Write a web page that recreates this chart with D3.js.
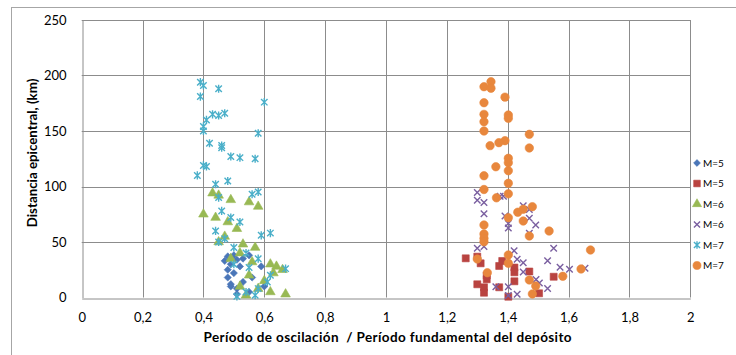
<!DOCTYPE html>
<html>
<head>
<meta charset="utf-8">
<script src="https://cdn.jsdelivr.net/npm/d3@7"></script>
<style>
  html, body { margin: 0; padding: 0; background: #fff; }
  svg { display: block; }
  text { font-family: Lato, "Open Sans", "Liberation Sans", sans-serif; fill: #000; }
</style>
</head>
<body>
<svg id="chart" width="736" height="355"></svg>
<script>
// Period ratio (x) vs. epicentral distance in km (y), grouped by magnitude
const seriesNames = ["M=5", "M=5", "M=6", "M=6", "M=7", "M=7"];

const m5Low = [
  [0.48,37],[0.50,38],[0.47,33],[0.51,34],[0.49,30],[0.53,35],[0.48,25],[0.50,22],
  [0.52,28],[0.48,18],[0.49,12],[0.49,10],[0.51,8],[0.53,14],[0.56,18],[0.60,10],
  [0.55,5],[0.51,3],[0.55,38],[0.59,28]
];
const m5High = [
  [1.262,35.3],[1.300,36.8],[1.311,30.8],[1.372,28.4],[1.382,32.9],[1.422,27.0],
  [1.422,22.7],[1.471,23.4],[1.331,19.8],[1.331,16.4],[1.422,14.6],[1.300,11.9],
  [1.322,9.2],[1.322,4.3],[1.372,9.2],[1.402,0.7],[1.551,18.7],[1.503,3.8]
];
const m6Low = [
  [0.43,94],[0.45,92],[0.49,88],[0.55,86],[0.58,82],[0.40,75],[0.44,72],[0.48,68],
  [0.51,62],[0.47,55],[0.45,50],[0.53,48],[0.57,45],[0.52,40],[0.49,35],[0.56,32],
  [0.62,30],[0.64,28],[0.66,25],[0.63,22],[0.55,20],[0.60,15],[0.52,10],[0.58,8],
  [0.62,5],[0.67,3],[0.54,2]
];
const m6High = [
  [1.300,94.6],[1.300,87.6],[1.322,85.6],[1.322,75.5],[1.375,91.2],[1.386,91.2],
  [1.391,73.4],[1.402,66.7],[1.402,62.6],[1.451,82.7],[1.471,79.3],[1.471,71.4],
  [1.492,65.3],[1.471,57.8],[1.300,44.3],[1.322,45.9],[1.421,42.2],[1.431,34.5],
  [1.451,31.3],[1.451,23.0],[1.493,16.2],[1.504,13.1],[1.531,8.1],[1.531,33.1],
  [1.551,44.3],[1.572,27.2],[1.603,25.4],[1.654,26.3],[1.361,9.7],[1.402,9.7],
  [1.402,1.8],[1.431,2.9]
];
const m7Low = [
  [0.39,194],[0.40,191],[0.39,181],[0.45,188],[0.43,165],[0.45,164],[0.47,166],
  [0.41,160],[0.40,154],[0.40,150],[0.58,148],[0.60,176],[0.42,139],[0.46,137],
  [0.46,135],[0.49,127],[0.52,126],[0.57,125],[0.40,119],[0.41,118],[0.38,110],
  [0.44,102],[0.48,105],[0.56,93],[0.58,95],[0.45,90],[0.46,78],[0.49,72],[0.52,68],
  [0.44,60],[0.47,53],[0.45,50],[0.59,56],[0.62,58],[0.50,45],[0.54,40],[0.58,35],
  [0.50,30],[0.55,27],[0.62,20],[0.67,26],[0.61,14],[0.58,8],[0.54,5],[0.57,2],[0.51,1]
];
const m7High = [
  [1.345,194.4],[1.322,189.9],[1.345,188.5],[1.391,180.5],[1.322,175.5],[1.322,165.0],
  [1.402,164.4],[1.402,161.4],[1.322,158.4],[1.322,150.0],[1.471,147.0],[1.391,141.3],
  [1.371,139.5],[1.342,136.8],[1.471,134.7],[1.402,125.4],[1.402,121.4],[1.361,117.8],
  [1.402,114.2],[1.322,109.7],[1.402,102.9],[1.322,97.3],[1.402,93.4],[1.363,89.8],
  [1.433,76.8],[1.451,79.5],[1.481,81.8],[1.402,71.9],[1.451,68.9],[1.322,65.3],
  [1.322,57.2],[1.322,53.3],[1.322,50.3],[1.471,55.4],[1.536,59.9],[1.300,34.7],
  [1.402,38.3],[1.402,30.8],[1.333,22.3],[1.471,15.8],[1.492,10.4],[1.481,3.2],
  [1.672,42.8],[1.641,25.7],[1.581,19.1]
];

const xTicks = [0, 0.2, 0.4, 0.6, 0.8, 1, 1.2, 1.4, 1.6, 1.8, 2];
const yTicks = [0, 50, 100, 150, 200, 250];
const xTitle = "Período de oscilación  / Período fundamental del depósito";
const yTitle = "Distancia epicentral, (km)";

// Marker shapes
const asterisk = {
  draw(ctx, size) {
    const r = Math.sqrt(size) / 2;
    ctx.moveTo(-r, -r); ctx.lineTo(r, r);
    ctx.moveTo(-r, r); ctx.lineTo(r, -r);
    ctx.moveTo(0, -r * 1.25); ctx.lineTo(0, r * 1.25);
  }
};
const cross = {
  draw(ctx, size) {
    const r = Math.sqrt(size) / 2;
    ctx.moveTo(-r, -r); ctx.lineTo(r, r);
    ctx.moveTo(-r, r); ctx.lineTo(r, -r);
  }
};
const diamond = {
  draw(ctx, size) {
    const r = Math.sqrt(size) / 2 * 1.2;
    ctx.moveTo(0, -r); ctx.lineTo(r, 0); ctx.lineTo(0, r); ctx.lineTo(-r, 0); ctx.closePath();
  }
};

const series = [
  { name: seriesNames[0], data: m5Low,  color: "#4A76B8", type: diamond,          size: 36, fill: true },
  { name: seriesNames[1], data: m5High, color: "#B94340", type: d3.symbolSquare,  size: 49, fill: true },
  { name: seriesNames[2], data: m6Low,  color: "#98B954", type: d3.symbolTriangle,size: 40, fill: true },
  { name: seriesNames[3], data: m6High, color: "#7A5FA0", type: cross,            size: 42, fill: false },
  { name: seriesNames[4], data: m7Low,  color: "#4AAFC9", type: asterisk,         size: 42, fill: false },
  { name: seriesNames[5], data: m7High, color: "#E8873D", type: d3.symbolCircle,  size: 56, fill: true }
];

const svg = d3.select("#chart");
const margin = { left: 81.7, right: 736 - 690.3, top: 20, bottom: 355 - 297.5 };
const W = 736, H = 355;

// Chart area frame
svg.append("rect")
  .attr("x", 11.5).attr("y", 7.5).attr("width", 740).attr("height", 360)
  .attr("fill", "#fff").attr("stroke", "#A6A6A6").attr("stroke-width", 1);

const x = d3.scaleLinear().domain([0, 2]).range([margin.left, W - margin.right]);
const y = d3.scaleLinear().domain([0, 250]).range([H - margin.bottom, margin.top]);

const loc = d3.formatLocale({ decimal: ",", thousands: ".", grouping: [3], currency: ["", ""] });
const fmt = loc.format("~g");

// Gridlines
const grid = svg.append("g").attr("stroke", "#8C8C8C").attr("stroke-width", 1);
grid.selectAll("line.h").data(yTicks.slice(1)).join("line")
  .attr("x1", x(0)).attr("x2", x(2))
  .attr("y1", d => Math.round(y(d)) + 0.5).attr("y2", d => Math.round(y(d)) + 0.5);
grid.selectAll("line.v").data(xTicks.slice(1)).join("line")
  .attr("y1", y(0)).attr("y2", y(250))
  .attr("x1", d => Math.round(x(d)) + 0.5).attr("x2", d => Math.round(x(d)) + 0.5);

// Axes
const xAxis = svg.append("g")
  .attr("transform", `translate(0,${Math.round(y(0)) + 0.5})`)
  .call(d3.axisBottom(x).tickValues(xTicks).tickFormat(fmt).tickSize(0).tickPadding(14));
const yAxis = svg.append("g")
  .attr("transform", `translate(${Math.round(x(0)) + 0.5},0)`)
  .call(d3.axisLeft(y).tickValues(yTicks).tickFormat(fmt).tickSize(0).tickPadding(16));
[xAxis, yAxis].forEach(a => {
  a.select(".domain").attr("stroke", "#8C8C8C");
  a.selectAll("text").attr("font-size", 13).attr("fill", "#000")
    .style("font-family", "Lato, 'Open Sans', sans-serif");
});

// Axis titles
svg.append("text")
  .attr("x", 387.5).attr("y", 342)
  .attr("text-anchor", "middle").attr("font-size", 13.5).attr("font-weight", "bold")
  .attr("textLength", 368).attr("lengthAdjust", "spacing")
  .style("white-space", "pre")
  .text(xTitle);
svg.append("text")
  .attr("transform", "translate(37,153) rotate(-90)")
  .attr("text-anchor", "middle").attr("font-size", 13.3).attr("font-weight", "bold")
  .text(yTitle);

// Points
const sym = d3.symbol();
series.forEach(s => {
  svg.append("g").selectAll("path").data(s.data).join("path")
    .attr("transform", d => `translate(${x(d[0])},${y(d[1])})`)
    .attr("d", sym.type(s.type).size(s.size)())
    .attr("fill", s.fill ? s.color : "none")
    .attr("stroke", s.color)
    .attr("stroke-width", s.fill ? 0.6 : 1.4);
});

// Legend
const legend = svg.append("g");
series.forEach((s, i) => {
  const ly = 163 + i * 20.5;
  legend.append("path")
    .attr("transform", `translate(697,${ly})`)
    .attr("d", sym.type(s.type).size(s.size * 0.9)())
    .attr("fill", s.fill ? s.color : "none")
    .attr("stroke", s.color)
    .attr("stroke-width", s.fill ? 0.6 : 1.4);
  legend.append("text")
    .attr("x", 703).attr("y", ly + 3.5)
    .attr("font-size", 10).attr("fill", "#333")
    .text(s.name);
});
</script>
</body>
</html>
